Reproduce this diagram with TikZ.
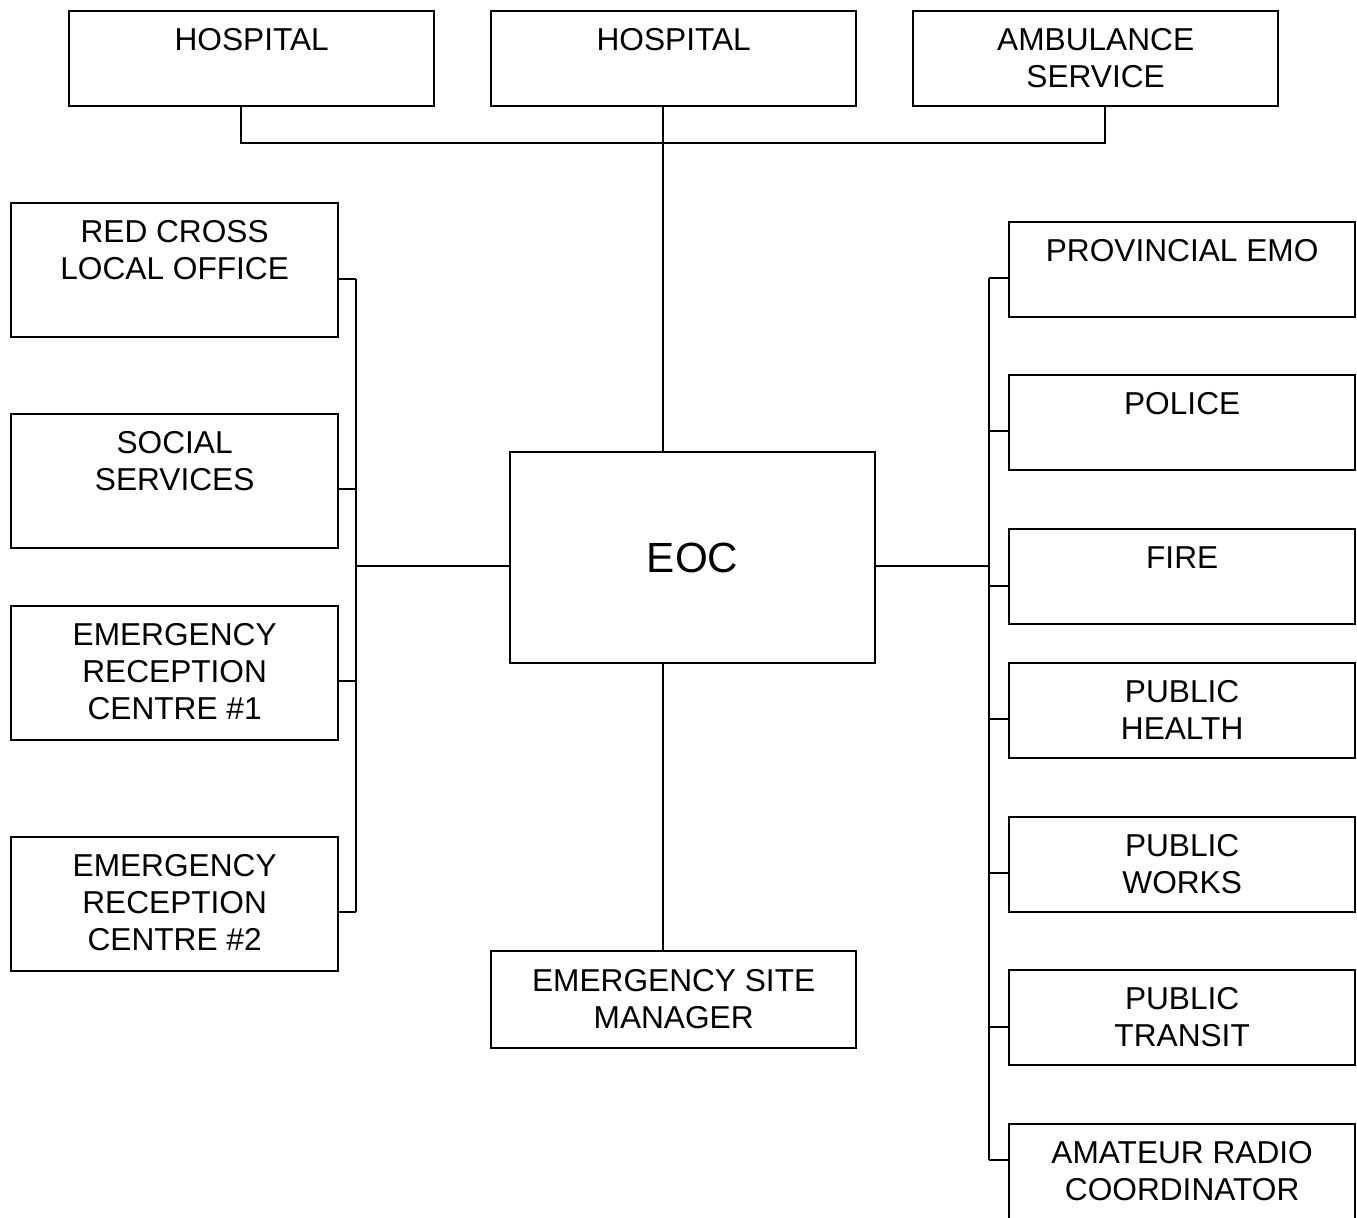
\documentclass[tikz,border=0pt]{standalone}
\usepackage{fontspec}
\setmainfont{Liberation Sans}
\usetikzlibrary{positioning}
\tikzset{
  unit/.style={draw, line width=0.6pt, rectangle, inner sep=0pt, anchor=north west},
  caption/.style={inner sep=0pt, anchor=north, align=center, font=\fontsize{9}{10.5}\selectfont},
  link/.style={line width=0.6pt}
}
\begin{document}
\begin{tikzpicture}[x=0.01cm,y=-0.01cm]
  \clip (0,0) rectangle (1357,1218);
  % top row
  \foreach \nm/\xx/\lb in {hosa/68/HOSPITAL, hosb/490/HOSPITAL, amb/912/{AMBULANCE\\SERVICE}}
  {
    \node[unit, minimum width=3.65cm, minimum height=0.95cm] (\nm) at (\xx,10) {};
    \node[caption, below=0.18cm of \nm.north] (\nm-t) {\lb};
  }
  % centre
  \node[unit, minimum width=3.65cm, minimum height=2.11cm, font=\fontsize{12}{14}\selectfont] (eoc) at (509,451) {EOC};
  \node[unit, minimum width=3.65cm, minimum height=0.97cm] (esm) at (490,950) {};
  \node[caption, below=0.19cm of esm.north] (esm-t) {EMERGENCY SITE\\MANAGER};
  % left column
  \coordinate (lbus) at (356,566);
  \foreach \nm/\yy/\ty/\lb in {
    rca/202/279/{RED CROSS\\LOCAL OFFICE},
    soc/413/489/{SOCIAL\\SERVICES},
    era/605/681/{EMERGENCY\\RECEPTION\\CENTRE \#1},
    erb/836/912/{EMERGENCY\\RECEPTION\\CENTRE \#2}}
  {
    \node[unit, minimum width=3.27cm, minimum height=1.34cm] (\nm) at (10,\yy) {};
    \node[caption, below=0.18cm of \nm.north] (\nm-t) {\lb};
    \coordinate (\nm-p) at (356,\ty);
    \draw[link] (\nm-p) -- (\nm-p -| \nm.east);
  }
  \draw[link] (rca-p) -- (erb-p);
  \draw[link] (lbus) -- (lbus -| eoc.west);
  % right column
  \coordinate (rbus) at (989,566);
  \foreach \nm/\yy/\ty/\lb in {
    emo/221/278/{PROVINCIAL EMO},
    pol/374/431/POLICE,
    fir/528/586/FIRE,
    phe/662/719/{PUBLIC\\HEALTH},
    pwo/816/873/{PUBLIC\\WORKS},
    ptr/969/1027/{PUBLIC\\TRANSIT},
    arc/1123/1160/{AMATEUR RADIO\\COORDINATOR}}
  {
    \node[unit, minimum width=3.46cm, minimum height=0.95cm] (\nm) at (1008,\yy) {};
    \node[caption, below=0.18cm of \nm.north] (\nm-t) {\lb};
    \coordinate (\nm-p) at (989,\ty);
    \draw[link] (\nm-p) -- (\nm-p -| \nm.west);
  }
  \draw[link] (emo-p) -- (arc-p);
  \draw[link] (rbus) -- (rbus -| eoc.east);
  % hospitals to EOC
  \coordinate (hub) at (663,143);
  \coordinate (ha) at (241,143);
  \coordinate (hc) at (1105,143);
  \draw[link] (ha |- hosa.south) -- (ha) -- (hc) -- (hc |- amb.south);
  \draw[link] (hub |- hosb.south) -- (hub |- eoc.north);
  \draw[link] (hub |- eoc.south) -- (hub |- esm.north);
\end{tikzpicture}
\end{document}
